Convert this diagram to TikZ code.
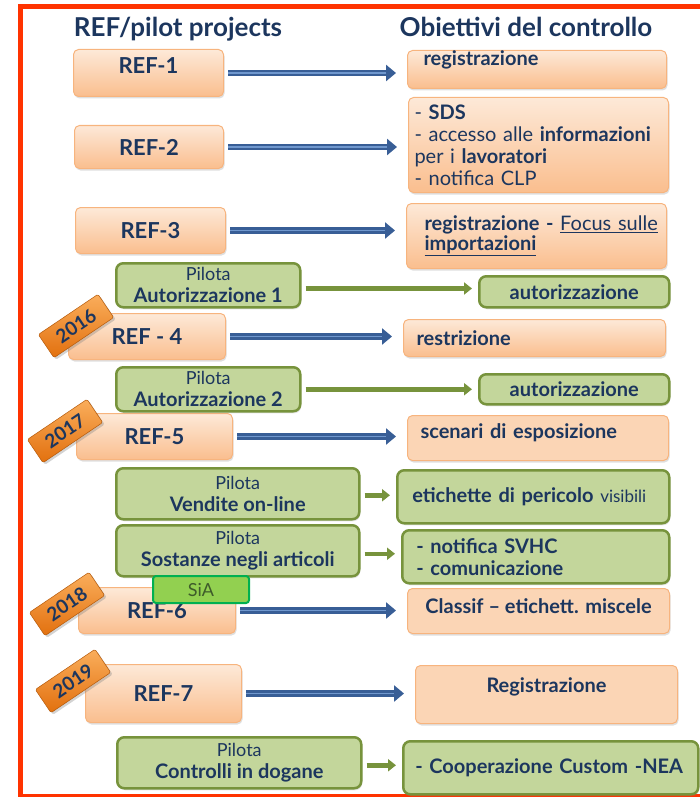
\documentclass[tikz,border=0pt]{standalone}
\usepackage{fontspec}
\setmainfont{Lato}
\usetikzlibrary{arrows.meta, positioning, shadows, calc}

\definecolor{navy}{RGB}{28,54,94}
\definecolor{orLight}{RGB}{253,233,216}
\definecolor{orDark}{RGB}{250,190,142}
\definecolor{orFlat}{RGB}{251,213,181}
\definecolor{orEdge}{RGB}{247,180,126}
\definecolor{grFill}{RGB}{195,214,155}
\definecolor{grEdge}{RGB}{119,147,60}
\definecolor{blueD}{RGB}{56,94,150}
\definecolor{blueL}{RGB}{112,152,206}
\definecolor{badgeL}{RGB}{250,174,92}
\definecolor{badgeD}{RGB}{226,112,14}
\definecolor{siaFill}{RGB}{146,208,80}
\definecolor{siaEdge}{RGB}{0,176,80}
\definecolor{siaText}{RGB}{62,92,42}
\definecolor{redframe}{RGB}{255,51,0}

\newcommand{\pilotline}[1]{{\fontsize{20}{22}\selectfont\bfseries #1}}

\begin{document}
\begin{tikzpicture}[
    x=1pt, y=-1pt,
    title/.style={anchor=base, font=\fontsize{26}{28}\selectfont\bfseries\color{navy}},
    orbox/.style={draw=orEdge, line width=1pt, rounded corners=5pt, anchor=north west,
        drop shadow={opacity=0.25, shadow xshift=1pt, shadow yshift=-2pt}},
    refbox/.style={orbox, top color=orLight, bottom color=orDark, font=\fontsize{22}{24}\selectfont\bfseries\color{navy}},
    goal/.style={orbox, top color=orLight, bottom color=orDark, align=left, font=\fontsize{20}{22}\selectfont\color{navy}},
    flatgoal/.style={orbox, fill=orFlat, align=center, font=\fontsize{20}{22}\selectfont\bfseries\color{navy}},
    pilot/.style={draw=grEdge, line width=2.5pt, fill=grFill, rounded corners=7pt, anchor=north west, align=center,
        font=\fontsize{18}{22}\selectfont\color{navy}, drop shadow={opacity=0.2, shadow xshift=1pt, shadow yshift=-2pt}},
    grgoal/.style={pilot, align=left, font=\fontsize{20}{22}\selectfont\color{navy}},
    year/.style={draw=badgeD!80!black, line width=0.5pt, rounded corners=1.5pt, top color=badgeL, bottom color=badgeD,
        rotate=34, minimum width=72pt, minimum height=28pt, font=\fontsize{19}{20}\selectfont\bfseries\color{navy},
        drop shadow={opacity=0.35, shadow xshift=2pt, shadow yshift=-2pt}},
    bluearrow/.style={draw=blueD, line width=6.5pt, -{Triangle[length=10pt, width=16pt]}, shorten <=4pt, shorten >=11pt},
    bluestripe/.style={draw=blueL, line width=1.5pt, shorten <=4pt, shorten >=21pt},
    greenarrow/.style={draw=grEdge, line width=4.5pt, -{Triangle[length=8pt, width=12pt]}, shorten <=4pt, shorten >=6pt},
]
\useasboundingbox (0,0) rectangle (700,797);

% frame
\draw[draw=redframe, line width=5pt] (706,7) -- (20,7) -- (20,796) -- (706,796);

% column titles
\node[title] (tref) at (178,37) {REF/pilot projects};
\node[title] (tobj) at (526,37) {Obiettivi del controllo};

% REF projects
\node[refbox, minimum width=150pt, minimum height=47pt, inner ysep=0pt, text height=24pt, text depth=23pt] (ref1) at (73,49) {REF-1};
\node[refbox, minimum width=149pt, minimum height=43pt] (ref2) at (74,125) {REF-2};
\node[refbox, minimum width=150pt, minimum height=46pt] (ref3) at (75,207) {REF-3};
\node[refbox, minimum width=157pt, minimum height=46pt] (ref4) at (68,313) {REF - 4};
\node[refbox, minimum width=156pt, minimum height=46pt] (ref5) at (76,413) {REF-5};
\node[refbox, minimum width=157pt, minimum height=46pt] (ref6) at (78,587) {REF-6};
\node[refbox, minimum width=156pt, minimum height=58pt] (ref7) at (85,664) {REF-7};

% pilot projects
\node[pilot, minimum width=184pt, minimum height=44pt] (pa1) at (115,262) {Pilota\\\pilotline{Autorizzazione 1}};
\node[pilot, minimum width=184pt, minimum height=44pt] (pa2) at (115,366) {Pilota\\\pilotline{Autorizzazione 2}};
\node[pilot, minimum width=243pt, minimum height=51pt] (pv) at (115,467) {Pilota\\\pilotline{Vendite on-line}};
\node[pilot, minimum width=243pt, minimum height=51pt] (ps) at (115,524) {Pilota\\\pilotline{Sostanze negli articoli}};
\node[pilot, minimum width=244pt, minimum height=51pt] (pc) at (116,736) {Pilota\\\pilotline{Controlli in dogane}};

% objectives
\node[goal, text width=227pt, inner xsep=16pt, inner ysep=2pt, text height=13pt, text depth=21pt] (obj1) at (407,50) {\textbf{registrazione}};
\node[goal, text width=248pt, inner xsep=6pt, minimum height=95pt] (obj2) at (408,97)
    {- \textbf{SDS}\\\mbox{- accesso alle \textbf{informazioni}}\\per i \textbf{lavoratori}\\- notifica CLP};
\node[goal, text width=224pt, inner xsep=18pt, minimum height=65pt, font=\fontsize{20}{20}\selectfont\color{navy}] (obj3) at (406,203)
    {\mbox{\textbf{registrazione -} \underline{Focus sulle}}\\\underline{\textbf{importazioni}}};
\node[pilot, minimum width=190pt, minimum height=31pt, font=\fontsize{20}{22}\selectfont\bfseries\color{navy}] (oa1) at (478,275) {autorizzazione};
\node[goal, text width=236pt, inner xsep=13pt, minimum height=37pt] (obj4) at (403,319) {\textbf{restrizione}};
\node[pilot, minimum width=190pt, minimum height=30pt, font=\fontsize{20}{22}\selectfont\bfseries\color{navy}] (oa2) at (478,373) {autorizzazione};
\node[flatgoal, align=left, text width=235pt, inner xsep=13pt, inner ysep=4pt, text height=19pt, text depth=18pt] (obj5) at (407,415) {scenari di esposizione};
\node[grgoal, text width=242pt, inner xsep=15pt, minimum height=53pt] (obj6) at (396,469)
    {\mbox{\textbf{etichette di pericolo} {\fontsize{17}{20}\selectfont visibili}}};
\node[grgoal, text width=239pt, inner xsep=14pt, minimum height=53pt, font=\fontsize{20}{22}\selectfont\bfseries\color{navy}] (obj7) at (401,529)
    {- notifica SVHC\\- comunicazione};
\node[flatgoal, minimum width=262pt, inner ysep=4pt, text height=21pt, text depth=16pt] (obj8) at (407,588) {Classif -- etichett. miscele};
\node[flatgoal, minimum width=262pt, inner ysep=4pt, text height=23pt, text depth=27pt] (obj9) at (415,665) {Registrazione};
\node[grgoal, text width=271pt, inner xsep=12pt, minimum height=53pt, font=\fontsize{20}{22}\selectfont\bfseries\color{navy}] (obj10) at (402,740)
    {\mbox{- Cooperazione Custom -NEA}};

% REF arrows
\foreach \a/\b in {ref1/obj1, ref2/obj2, ref3/obj3, ref4/obj4, ref5/obj5, ref6/obj8, ref7/obj9} {
    \draw[bluearrow] (\a.east) -- (\a.east -| \b.west);
    \draw[bluestripe] (\a.east) -- (\a.east -| \b.west);
}

% pilot arrows
\foreach \a/\b in {pa1/oa1, pa2/oa2, pv/obj6, ps/obj7, pc/obj10} {
    \coordinate (m) at ($(\a.center)!0.5!(\b.center)$);
    \draw[greenarrow] (\a.east |- m) -- (\b.west |- m);
}

% SiA tag
\node[draw=siaEdge, line width=2pt, fill=siaFill, rounded corners=3pt, anchor=north west, minimum width=96pt, minimum height=27pt,
    font=\fontsize{18}{20}\selectfont\color{siaText}] (sia) at (152,575) {SiA};

% years
\node[year] (y2016) at (76,326) {2016};
\node[year] (y2017) at (65,431) {2017};
\node[year] (y2018) at (67,604) {2018};
\node[year] (y2019) at (73,681) {2019};

\end{tikzpicture}
\end{document}
